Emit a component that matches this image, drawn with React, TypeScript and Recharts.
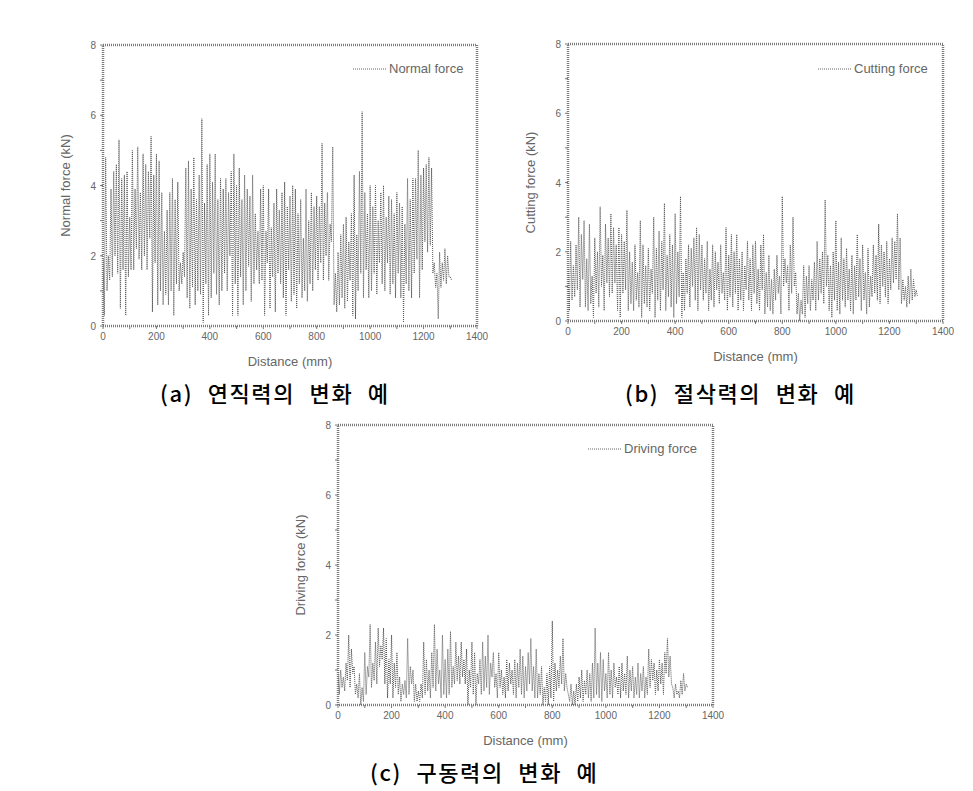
import React from 'react';
import { LineChart, Line, XAxis, YAxis, ReferenceArea, Legend } from 'recharts';

// sampling step of the recorded signal (mm); each step holds a peak and a trough
const STEP_MM = 10;

const normalHigh = [
  1.9, 4.8, 2.0, 3.9, 4.4, 4.6, 5.3, 4.2, 4.3, 4.4,
  3.1, 5.0, 3.9, 5.1, 3.8, 4.9, 4.6, 4.4, 5.4, 4.3,
  4.9, 4.7, 3.8, 2.7, 3.3, 3.8, 4.2, 3.6, 4.1, 1.8,
  2.1, 4.5, 4.7, 3.9, 4.8, 3.6, 4.3, 5.9, 3.5, 4.6,
  4.9, 4.1, 4.9, 3.6, 4.2, 3.9, 4.2, 3.8, 4.4, 4.9,
  4.0, 4.5, 3.6, 4.3, 3.9, 3.7, 4.3, 3.2, 2.7, 3.9,
  4.0, 2.7, 3.9, 2.8, 3.5, 3.9, 3.3, 3.8, 4.1, 3.4,
  3.7, 4.0, 3.9, 3.2, 3.6, 2.5, 3.9, 3.0, 3.8, 3.4,
  3.7, 3.4, 5.2, 3.5, 3.8, 2.9, 5.1, 1.5, 2.1, 2.6,
  2.9, 3.1, 2.4, 3.2, 4.3, 2.6, 4.4, 6.1, 3.8, 3.2,
  4.0, 3.4, 4.0, 3.0, 3.8, 4.0, 3.1, 3.7, 3.6, 3.2,
  3.8, 3.5, 3.4, 2.9, 4.2, 3.6, 4.2, 4.2, 5.0, 4.3,
  4.5, 4.6, 4.8, 4.5, 1.8, 1.5, 2.1, 1.8, 2.2, 2.0, 1.4,
];
const normalLow = [
  0.3, 1.0, 1.3, 1.4, 2.0, 1.5, 0.5, 1.6, 0.3, 1.4,
  1.6, 1.6, 2.2, 1.9, 1.6, 2.0, 1.6, 2.5, 0.4, 1.8,
  0.6, 1.0, 0.6, 0.9, 0.6, 1.0, 0.3, 1.2, 1.0, 1.2,
  1.4, 0.8, 0.5, 1.1, 0.6, 1.0, 0.9, 0.1, 1.2, 0.3,
  0.8, 1.5, 0.9, 0.6, 1.0, 1.5, 1.0, 2.0, 0.3, 1.2,
  0.3, 1.4, 0.6, 1.0, 1.7, 0.7, 1.2, 1.6, 1.2, 1.3,
  0.3, 1.8, 0.5, 1.4, 0.4, 1.5, 1.2, 0.8, 0.3, 1.6,
  0.7, 0.9, 0.5, 1.2, 0.8, 1.0, 0.7, 1.2, 1.0, 1.6,
  1.3, 1.8, 1.3, 2.0, 1.3, 2.4, 0.6, 0.4, 0.6, 0.8,
  0.5, 0.7, 1.3, 0.3, 0.2, 1.0, 1.5, 0.8, 1.6, 0.8,
  1.0, 1.5, 0.9, 1.8, 1.2, 1.0, 1.8, 0.9, 1.2, 0.8,
  1.5, 0.8, 0.1, 1.2, 1.0, 0.8, 1.5, 1.9, 0.8, 1.6,
  2.4, 2.1, 2.3, 1.5, 1.1, 0.2, 1.1, 1.3, 1.2, 1.4, 1.3,
];

const cuttingHigh = [
  1.5, 2.3, 1.6, 2.2, 3.0, 2.5, 2.9, 1.8, 2.8, 1.3,
  2.4, 2.0, 3.3, 1.9, 2.8, 2.4, 3.1, 2.7, 2.2, 2.7,
  2.5, 2.3, 3.2, 2.0, 1.7, 2.2, 1.4, 2.9, 2.2, 1.6,
  2.1, 1.5, 3.0, 2.1, 2.6, 2.3, 3.4, 1.9, 2.5, 2.2,
  3.1, 2.0, 3.6, 1.4, 1.8, 2.2, 2.1, 2.4, 2.7, 2.5,
  2.2, 1.8, 2.3, 1.5, 2.2, 2.0, 1.7, 2.2, 1.4, 2.7,
  1.9, 2.5, 2.0, 2.5, 1.8, 2.0, 1.6, 2.3, 1.8, 2.2,
  2.3, 1.5, 2.2, 2.5, 1.4, 1.9, 1.2, 1.5, 1.9, 1.3,
  3.6, 1.8, 1.6, 2.2, 3.0, 1.4, 0.8, 0.6, 1.6, 1.3,
  1.6, 1.2, 1.7, 2.3, 1.8, 2.0, 3.5, 1.9, 1.6, 2.0,
  2.9, 1.7, 2.4, 1.8, 2.1, 1.5, 1.9, 1.6, 2.5, 1.8,
  2.2, 1.4, 2.1, 1.3, 2.2, 1.9, 2.8, 2.2, 2.0, 2.3,
  1.8, 2.4, 2.3, 3.1, 2.4, 1.2, 1.0, 1.3, 1.5, 1.2, 0.9,
];
const cuttingLow = [
  0.3, 0.6, 0.7, 0.9, 0.4, 1.2, 0.4, 0.3, 0.5, 0.1,
  0.8, 0.4, 1.0, 0.3, 1.1, 0.7, 0.8, 1.1, 0.3, 0.1,
  0.8, 0.9, 0.3, 0.5, 0.3, 0.6, 0.4, 0.1, 0.5, 0.4,
  0.3, 0.8, 0.1, 0.6, 0.3, 0.9, 0.3, 0.7, 0.4, 0.1,
  0.5, 0.7, 0.1, 0.3, 0.8, 0.4, 1.0, 0.6, 0.3, 0.9,
  0.6, 0.8, 0.3, 0.6, 0.4, 0.9, 0.5, 0.8, 0.6, 0.3,
  0.7, 0.4, 0.8, 0.3, 0.6, 0.3, 0.9, 0.6, 0.3, 0.8,
  0.5, 0.3, 0.9, 0.2, 0.4, 0.3, 0.2, 0.6, 0.8, 0.2,
  1.0, 1.1, 0.3, 0.8, 1.0, 0.2, 0.0, 0.2, 0.1, 0.5,
  0.3, 0.6, 0.3, 0.6, 0.8, 0.5, 1.0, 0.3, 0.1, 0.6,
  0.3, 0.2, 0.6, 0.4, 0.6, 0.3, 0.2, 0.6, 0.7, 0.3,
  0.6, 0.2, 0.4, 0.7, 0.8, 0.6, 0.5, 1.0, 0.7, 0.5,
  0.9, 1.1, 1.2, 0.9, 0.5, 0.6, 0.4, 0.5, 0.6, 0.7, 0.7,
];

const drivingHigh = [
  0.9, 1.0, 0.8, 1.2, 2.0, 1.6, 1.1, 0.6, 0.9, 0.5,
  1.5, 1.1, 2.3, 1.2, 1.8, 2.2, 1.7, 2.2, 1.9, 1.3,
  2.0, 1.2, 1.5, 0.8, 0.6, 0.7, 1.9, 1.1, 1.0, 0.6,
  0.4, 0.6, 1.8, 1.3, 1.0, 1.5, 2.3, 1.6, 1.0, 2.0,
  1.3, 1.6, 2.1, 1.1, 1.8, 1.4, 1.8, 1.3, 1.6, 1.0,
  1.8, 1.5, 0.9, 1.3, 1.8, 1.4, 2.0, 1.2, 1.5, 0.9,
  1.5, 1.0, 0.8, 1.3, 1.2, 1.0, 1.3, 1.2, 1.6, 1.4,
  1.1, 1.5, 1.9, 1.1, 1.6, 0.9, 1.1, 0.5, 0.9, 1.1,
  2.4, 1.2, 1.0, 1.4, 1.9, 0.9, 0.3, 0.6, 0.4, 0.6,
  0.8, 1.0, 0.7, 1.0, 0.9, 1.2, 2.2, 1.2, 1.5, 1.3,
  0.9, 1.5, 1.0, 1.2, 0.8, 1.1, 1.2, 0.9, 1.4, 1.0,
  1.1, 0.8, 1.2, 0.9, 1.1, 0.8, 1.6, 1.3, 1.2, 1.0,
  1.3, 1.2, 1.5, 1.9, 1.4, 0.5, 0.6, 0.4, 0.7, 0.9, 0.6,
];
const drivingLow = [
  0.3, 0.5, 0.4, 0.7, 0.5, 0.9, 0.3, 0.2, 0.0, 0.1,
  0.3, 0.8, 0.5, 0.7, 0.6, 1.1, 1.3, 0.6, 0.2, 0.6,
  0.2, 0.5, 0.3, 0.1, 0.3, 0.2, 0.3, 0.6, 0.1, 0.1,
  0.1, 0.2, 0.3, 0.4, 0.2, 0.5, 0.4, 0.6, 0.2, 0.3,
  0.2, 0.3, 0.5, 0.6, 0.7, 0.6, 0.8, 0.6, 0.0, 0.5,
  0.3, 0.0, 0.6, 0.3, 0.4, 0.5, 0.3, 0.8, 0.5, 0.2,
  0.5, 0.3, 0.2, 0.4, 0.6, 0.3, 0.2, 0.5, 0.3, 0.2,
  0.4, 0.6, 0.4, 0.2, 0.2, 0.3, 0.0, 0.1, 0.0, 0.2,
  0.1, 0.4, 0.5, 0.6, 0.4, 0.5, 0.1, 0.0, 0.0, 0.1,
  0.2, 0.1, 0.3, 0.2, 0.1, 0.2, 0.3, 0.2, 0.1, 0.4,
  0.2, 0.3, 0.2, 0.5, 0.3, 0.2, 0.4, 0.3, 0.2, 0.4,
  0.2, 0.3, 0.2, 0.4, 0.2, 0.3, 0.5, 0.7, 0.3, 0.4,
  0.6, 0.3, 0.9, 0.8, 0.6, 0.2, 0.3, 0.2, 0.3, 0.4, 0.5,
];

const xTicks = [0, 100, 200, 300, 400, 500, 600, 700, 800, 900, 1000, 1100, 1200, 1300, 1400];
const xMajor = [0, 200, 400, 600, 800, 1000, 1200, 1400];
const yTicks = [0, 1, 2, 3, 4, 5, 6, 7, 8];
const yMajor = [0, 2, 4, 6, 8];

const captions = ['(a) 연직력의 변화 예', '(b) 절삭력의 변화 예', '(c) 구동력의 변화 예'];

function buildRows(highs: number[], lows: number[]) {
  const rows: { d: number; v: number }[] = [];
  highs.forEach((h, i) => {
    rows.push({ d: i * STEP_MM, v: h });
    rows.push({ d: i * STEP_MM + STEP_MM / 2, v: lows[i] });
  });
  return rows;
}

const SANS = '"Liberation Sans", Arial, sans-serif';
const AXIS_GREY = '#7a7a7a';
const TEXT_GREY = '#666';

function XTick(props: any) {
  const { x, y, payload } = props;
  if (!xMajor.includes(payload.value)) return <g />;
  return (
    <text x={x} y={y} dy={8} textAnchor="middle" fontSize={10} fill={TEXT_GREY} fontFamily={SANS}>
      {payload.value}
    </text>
  );
}

function YTick(props: any) {
  const { x, y, payload } = props;
  if (!yMajor.includes(payload.value)) return <g />;
  return (
    <text x={x} y={y} dy={4} textAnchor="end" fontSize={10} fill={TEXT_GREY} fontFamily={SANS}>
      {payload.value}
    </text>
  );
}

function XTitle(props: any) {
  const vb = props.viewBox || { x: 0, y: 0, width: 0, height: 0 };
  const cx = vb.x + vb.width / 2;
  const cy = vb.y + 35;
  return (
    <text x={cx} y={cy} textAnchor="middle" dominantBaseline="central" fontSize={13} fill={TEXT_GREY} fontFamily={SANS}>
      {props.text}
    </text>
  );
}

function YTitle(props: any) {
  const vb = props.viewBox || { x: 0, y: 0, width: 0, height: 0 };
  const cx = vb.x + 25;
  const cy = vb.y + vb.height / 2;
  return (
    <text x={cx} y={cy} transform={`rotate(-90 ${cx} ${cy})`} textAnchor="middle" dominantBaseline="central" fontSize={13} fill={TEXT_GREY} fontFamily={SANS}>
      {props.text}
    </text>
  );
}

function LegendBox({ name }: { name: string }) {
  return (
    <div style={{ display: 'flex', alignItems: 'center', whiteSpace: 'nowrap' }}>
      <svg width={36} height={10}>
        <line x1={0} y1={5} x2={34} y2={5} stroke="#666" strokeWidth={1} strokeDasharray="1 1" />
      </svg>
      <span style={{ fontFamily: SANS, fontSize: 13, color: TEXT_GREY, lineHeight: '16px' }}>{name}</span>
    </div>
  );
}

function ForceChart({ rows, name, yTitle, width, height, margin }: any) {
  return (
    <LineChart width={width} height={height} data={rows} margin={margin}>
      <XAxis
        dataKey="d"
        type="number"
        domain={[0, 1400]}
        ticks={xTicks}
        interval={0}
        allowDataOverflow
        axisLine={false}
        tickLine={{ stroke: AXIS_GREY }}
        tickSize={3}
        tickMargin={3}
        tick={<XTick />}
        height={54}
        label={<XTitle text="Distance (mm)" />}
      />
      <YAxis
        type="number"
        domain={[0, 8]}
        ticks={yTicks}
        interval={0}
        allowDataOverflow
        axisLine={false}
        tickLine={{ stroke: AXIS_GREY }}
        tickSize={3}
        tickMargin={4}
        tick={<YTick />}
        width={63}
        label={<YTitle text={yTitle} />}
      />
      <ReferenceArea x1={0} x2={1400} y1={0} y2={8} fill="none" stroke={AXIS_GREY} strokeWidth={2.5} strokeDasharray="1 1" ifOverflow="visible" />
      <Legend
        layout="vertical"
        align="center"
        verticalAlign="middle"
        wrapperStyle={{ top: 31, left: 313, width: 'auto', height: 'auto' }}
        content={() => <LegendBox name={name} />}
      />
      <Line
        type="linear"
        dataKey="v"
        name={name}
        stroke="#575757"
        strokeWidth={1}
        strokeDasharray="1 1"
        dot={false}
        activeDot={false}
        isAnimationActive={false}
      />
    </LineChart>
  );
}

const captionStyle: React.CSSProperties = {
  position: 'absolute',
  fontFamily: '"Noto Sans CJK KR", serif',
  fontSize: 22,
  fontWeight: 500,
  letterSpacing: 1.6,
  wordSpacing: 8,
  color: '#000',
  whiteSpace: 'nowrap',
  lineHeight: '24px',
};

export default function App() {
  const normalRows = buildRows(normalHigh, normalLow);
  const cuttingRows = buildRows(cuttingHigh, cuttingLow);
  const drivingRows = buildRows(drivingHigh, drivingLow);
  return (
    <div style={{ position: 'absolute', left: 0, top: 0, width: 973, height: 791, background: '#fff', overflow: 'hidden' }}>
      <div style={{ position: 'absolute', left: 40, top: 30 }}>
        <ForceChart rows={normalRows} name="Normal force" yTitle="Normal force (kN)" width={450} height={350} margin={{ top: 15, right: 13, left: 0, bottom: 0 }} />
      </div>
      <div style={{ position: 'absolute', left: 505, top: 30 }}>
        <ForceChart rows={cuttingRows} name="Cutting force" yTitle="Cutting force (kN)" width={450} height={345} margin={{ top: 14, right: 12, left: 0, bottom: 0 }} />
      </div>
      <div style={{ position: 'absolute', left: 275, top: 410 }}>
        <ForceChart rows={drivingRows} name="Driving force" yTitle="Driving force (kN)" width={450} height={350} margin={{ top: 15, right: 12, left: 0, bottom: 1 }} />
      </div>
      <div style={{ ...captionStyle, left: 160, top: 380 }}>{captions[0]}</div>
      <div style={{ ...captionStyle, left: 625, top: 380 }}>{captions[1]}</div>
      <div style={{ ...captionStyle, left: 370, top: 759 }}>{captions[2]}</div>
    </div>
  );
}
